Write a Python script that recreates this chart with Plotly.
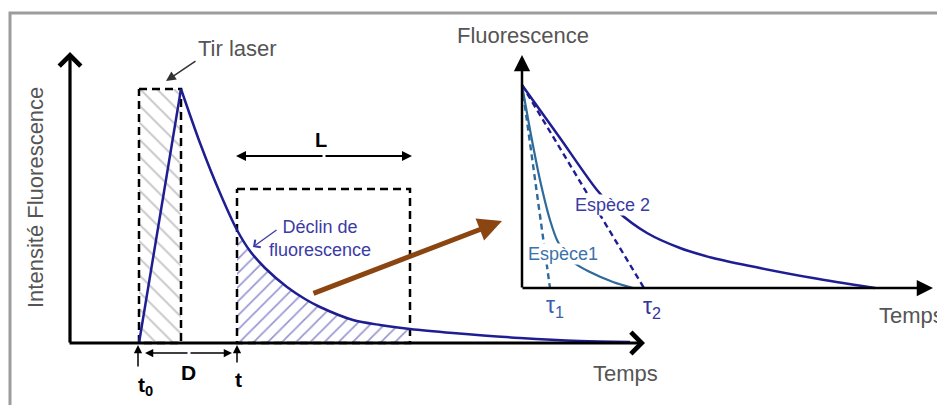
import plotly.graph_objects as go

# ---------------- data (pixel-like schematic units) ----------------
# Left panel: laser pulse rise and fluorescence decay
rise_x = [139, 181]
rise_y = [343, 89]
decay_x = [181, 200, 220, 237, 250, 265, 287, 305, 320, 353, 380, 410, 453, 520, 580, 630]
decay_y = [89, 143, 193, 230, 251, 268, 287, 299, 307, 320, 325, 329, 333, 338, 341, 342]

# Gate windows (laser window D, acquisition window L)
laser_box_x = [139, 181, 181, 139, 139]
laser_box_y = [89, 89, 343, 343, 89]
gate_box_x = [237, 410, 410, 237, 237]
gate_box_y = [189, 189, 343, 343, 189]
gate_start, gate_end = 237, 410

# Right panel: two species decays and their tangents
esp1_x = [522, 531, 540, 550, 558, 573, 590, 613, 633]
esp1_y = [85, 135, 180, 220, 242, 262, 272, 282, 288]
esp2_x = [522, 560, 597, 617, 647, 680, 713, 760, 813, 875]
esp2_y = [85, 138, 190, 211, 233, 248, 258, 268, 278, 288]
tau1_x = [522, 550]
tau1_y = [85, 288]
tau2_x = [522, 644]
tau2_y = [85, 288]

FONT = "Liberation Sans, Arial, sans-serif"
GRAY = "#555555"
NAVY = "#1e1e92"
STEEL = "#2e6a9c"
TXTBLUE = "#3b3ba6"

# the page body has an 8px margin: the figure is placed at (8, 8)
PAGE_OFF = 8
W, H = 945, 405

fig = go.Figure()

# outer frame
fig.add_trace(go.Scatter(x=[950, 10, 10], y=[13, 13, 420], mode="lines",
                         line=dict(color="#9c9c9c", width=3), hoverinfo="skip"))

# hatched laser window (grey)
fig.add_trace(go.Scatter(x=laser_box_x, y=laser_box_y, fill="toself", mode="none",
                         fillcolor="white",
                         fillpattern=dict(shape="\\", fgcolor="#8a8a8a", bgcolor="white",
                                          size=12, solidity=0.16),
                         hoverinfo="skip"))

# hatched area under the decay inside the gate (blue)
hx = [x for x in decay_x if gate_start <= x <= gate_end]
hy = [y for x, y in zip(decay_x, decay_y) if gate_start <= x <= gate_end]
fig.add_trace(go.Scatter(x=hx + [gate_end, gate_start, gate_start],
                         y=hy + [343, 343, hy[0]],
                         fill="toself", mode="none", fillcolor="white",
                         fillpattern=dict(shape="/", fgcolor="#3434a8", bgcolor="white",
                                          size=10, solidity=0.18),
                         hoverinfo="skip"))

# dashed windows
for bx, by in [(laser_box_x, laser_box_y), (gate_box_x, gate_box_y)]:
    fig.add_trace(go.Scatter(x=bx, y=by, mode="lines",
                             line=dict(color="black", width=2.5, dash="8px,5px"),
                             hoverinfo="skip"))

# fluorescence curve
fig.add_trace(go.Scatter(x=rise_x, y=rise_y, mode="lines",
                         line=dict(color=NAVY, width=2.5), hoverinfo="skip"))
fig.add_trace(go.Scatter(x=decay_x, y=decay_y, mode="lines",
                         line=dict(color=NAVY, width=2.5, shape="spline", smoothing=0.8),
                         hoverinfo="skip"))

# right panel curves
fig.add_trace(go.Scatter(x=tau1_x, y=tau1_y, mode="lines",
                         line=dict(color=STEEL, width=2.4, dash="6px,4px"), hoverinfo="skip"))
fig.add_trace(go.Scatter(x=tau2_x, y=tau2_y, mode="lines",
                         line=dict(color=NAVY, width=2.4, dash="6px,4px"), hoverinfo="skip"))
fig.add_trace(go.Scatter(x=esp1_x, y=esp1_y, mode="lines",
                         line=dict(color=STEEL, width=2.2, shape="spline", smoothing=0.8),
                         hoverinfo="skip"))
fig.add_trace(go.Scatter(x=esp2_x, y=esp2_y, mode="lines",
                         line=dict(color=NAVY, width=2.5, shape="spline", smoothing=0.8),
                         hoverinfo="skip"))


def arrow(tip, tail, color="black", head=2, width=1.5, size=1.0):
    return dict(x=tip[0], y=tip[1], ax=tail[0], ay=tail[1], xref="x", yref="y",
                axref="x", ayref="y", text="", showarrow=True, arrowhead=head,
                arrowwidth=width, arrowsize=size, arrowcolor=color, standoff=0)


def label(x, y, text, size=22, color=GRAY, bold=False, angle=0, xanchor="center", bg=None):
    d = dict(x=x, y=y, xref="x", yref="y", text=("<b>%s</b>" % text) if bold else text,
             showarrow=False, textangle=angle, xanchor=xanchor, yanchor="middle",
             font=dict(family=FONT, size=size, color=color))
    if bg:
        d.update(bgcolor=bg, borderpad=0)
    return d


anns = [
    # left axes (open chevron heads)
    arrow((70, 52), (70, 344), head=4, width=3.2, size=1.3),
    arrow((645, 343), (68, 343), head=4, width=3.2, size=1.3),
    # right axes (filled heads)
    arrow((522, 55), (522, 289), head=2, width=2.5, size=1.3),
    arrow((933, 288), (521, 288), head=2, width=2.5, size=1.3),
    # t0, t markers and D
    arrow((138, 345), (138, 368), head=2, width=1.5, size=1.1),
    arrow((237, 345), (237, 364), head=2, width=1.5, size=1.1),
    arrow((145, 353), (189, 353), head=2, width=1.5, size=1.1),
    arrow((232, 353), (189, 353), head=2, width=1.5, size=1.1),
    # L
    arrow((236, 156), (324, 156), head=2, width=2, size=1.0),
    arrow((412, 156), (324, 156), head=2, width=2, size=1.0),
    # Tir laser pointer
    arrow((166, 81), (197, 60), color="#333333", head=2, width=1.5, size=1.3),
    # Declin pointer
    arrow((253, 247), (278, 229), color=TXTBLUE, head=4, width=1.3, size=1.4),
    # brown arrow
    arrow((502, 221), (312, 294), color="#8a4511", head=2, width=5, size=0.95),
    # texts
    label(35, 198, "Intensité Fluorescence", angle=-90),
    label(237, 48, "Tir laser"),
    label(625, 373, "Temps"),
    label(523, 35, "Fluorescence"),
    label(877, 315, "Temps", xanchor="left"),
    label(321, 140, "L", size=20, color="black", bold=True),
    label(188, 372, "D", size=21, color="black", bold=True),
    label(145, 386, "t<sub>0</sub>", size=21, color="black", bold=True),
    label(238, 379, "t", size=21, color="black", bold=True),
    label(320, 238, "Déclin de<br>fluorescence", size=18, color=TXTBLUE),
    label(612, 205, "Espèce 2", size=18, color=TXTBLUE, bg="white"),
    label(563, 254, "Espèce1", size=18, color="#3c72aa", bg="white"),
    label(555, 306, "τ<sub>1</sub>", size=23, color="#3a5fae"),
    label(652, 307, "τ<sub>2</sub>", size=23, color="#34349e"),
]

fig.update_layout(
    width=W - PAGE_OFF, height=H - PAGE_OFF,
    margin=dict(l=0, r=0, t=0, b=0),
    paper_bgcolor="white", plot_bgcolor="white",
    showlegend=False,
    xaxis=dict(range=[PAGE_OFF, W], visible=False, fixedrange=True),
    yaxis=dict(range=[H, PAGE_OFF], visible=False, fixedrange=True),
    annotations=anns,
)

fig.write_html("out.html")
